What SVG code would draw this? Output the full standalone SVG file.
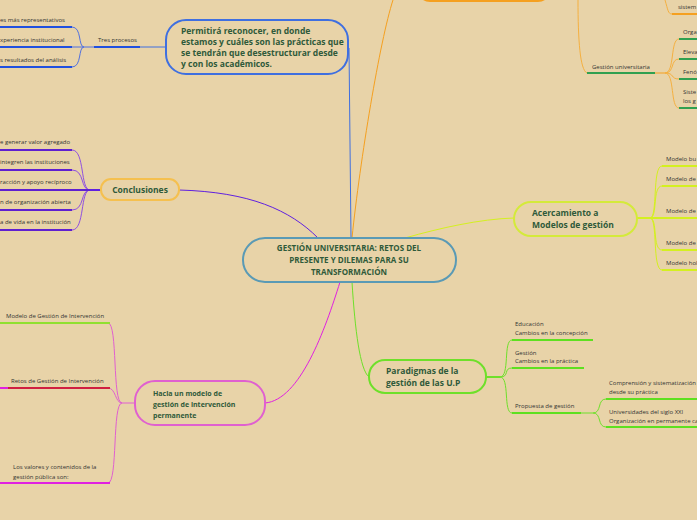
<svg xmlns="http://www.w3.org/2000/svg" width="697" height="520" viewBox="0 0 697 520">
<style>
.n{fill:#e8d3a8;stroke-width:2}
.t{font-family:"Open Sans","Noto Sans",sans-serif;font-weight:bold;fill:#2f5a3a;font-size:8.5px}
.s{font-family:"Open Sans","Noto Sans",sans-serif;fill:#333;font-size:6px}
.c{fill:none;stroke-width:1}
.u{fill:none;stroke-width:2}
</style>
<rect width="697" height="520" fill="#e8d3a8"/>
<g id="connectors">
<path class="c" d="M352,238 C360,160 380,40 393,0" stroke="#f5a020" stroke-width="1.5"/>
<path class="c" d="M578,0 C578,40 580,70 587,73" stroke="#f5b040"/>
<path class="u" d="M587,73 H655" stroke="#30a050"/>
<path class="c" d="M655,73 H665" stroke="#f5a020"/>
<path class="c" d="M665,73 C675,73 670,39 679,39 M665,73 C675,73 670,59 679,59 M665,73 C675,73 670,79 679,79 M665,73 C675,73 670,108 679,108 M665,0 C668,10 668,14 672,14" stroke="#f5b040"/>
<path class="u" d="M679,39 H697 M679,59 H697 M679,79 H697 M679,108 H697" stroke="#30a050"/>
<path class="u" d="M672,14 H697" stroke="#f5a020"/>
<path class="c" d="M351,238 L349,48" stroke="#3f6fe0" stroke-width="1.5"/>
<path class="c" d="M166,47 H140" stroke="#3f6fe0"/>
<path class="u" d="M94,47 H140" stroke="#2050e0"/>
<path class="c" d="M94,47 H84 C78,47 82,27 72,27 M84,47 H72 M84,47 C78,47 82,67 72,67" stroke="#5070e0"/>
<path class="u" d="M0,27 H72 M0,47 H72 M0,67 H72" stroke="#2050e0"/>
<path class="c" d="M179,190 C250,192 290,210 318,238" stroke="#6020e0" stroke-width="1.5"/>
<path class="u" d="M101,190 H90" stroke="#6020e0"/>
<path class="c" d="M90,190 C80,190 85,150 72,150 M90,190 C80,190 85,170 72,170 M90,190 C80,190 85,210 72,210 M90,190 C80,190 85,230 72,230" stroke="#9050e0"/>
<path class="u" d="M0,150 H72 M0,170 H72 M0,190 H90 M0,210 H72 M0,230 H72" stroke="#6020d0"/>
<path class="c" d="M405,238 C440,228 480,219 514,218" stroke="#d4f020" stroke-width="1.5"/>
<path class="u" d="M637,218 H650" stroke="#d4f020"/>
<path class="c" d="M650,218 C658,218 652,166 662,166 M650,218 C658,218 652,186 662,186 M650,218 C658,218 652,250 662,250 M650,218 C658,218 652,270 662,270" stroke="#d4f020"/>
<path class="u" d="M662,166 H697 M662,186 H697 M650,218 H697 M662,250 H697 M662,270 H697" stroke="#d4f020"/>
<path class="c" d="M352,282 C355,330 360,370 369,377" stroke="#6ee02a" stroke-width="1.5"/>
<path class="u" d="M486,377 H500" stroke="#6ee02a"/>
<path class="c" d="M500,377 C510,377 503,340 512,340 M500,377 C510,377 503,368 512,368 M500,377 C510,377 503,413 512,413" stroke="#6ee02a"/>
<path class="u" d="M512,340 H593 M512,368 H584 M512,413 H581" stroke="#5ee020"/>
<path class="c" d="M581,413 H593 C602,413 597,399 606,399 M593,413 C602,413 597,427 606,427" stroke="#6ee02a"/>
<path class="u" d="M606,399 H697 M606,427 H697" stroke="#5ee020"/>
<path class="c" d="M265,403 C300,400 325,330 340,282" stroke="#e020e0" stroke-width="1.5"/>
<path class="c" d="M135,403 H122" stroke="#e060d0"/>
<path class="c" d="M122,403 C112,403 118,323 108,323 M122,403 C115,403 116,388 108,388 M122,403 C112,403 118,483 108,483" stroke="#e060d0"/>
<path class="u" d="M0,323 H110" stroke="#90e030"/>
<path class="u" d="M8,388 H110" stroke="#d02040"/>
<path class="u" d="M0,388 H8 M0,483 H110" stroke="#e020e0"/>
</g>
<g id="n-top"><rect class="n" x="418" y="-30" width="132" height="31" rx="12" stroke="#f5a020"/></g>
<g id="n-gestion"><text class="s" x="592" y="69">Gestión universitaria</text>
<text class="s" x="683" y="34">Orga</text><text class="s" x="683" y="54">Eleva</text><text class="s" x="683" y="74">Fenó</text><text class="s" x="683" y="94">Siste</text><text class="s" x="683" y="103">los g</text><text class="s" x="678" y="9">sistem</text></g>
<g id="n-center"><rect class="n" x="243" y="238" width="213" height="44" rx="22" stroke="#5a9ab5"/>
<text class="t" text-anchor="middle" style="font-size:8px"><tspan x="349" y="251">GESTIÓN UNIVERSITARIA: RETOS DEL</tspan><tspan x="349" y="263">PRESENTE Y DILEMAS PARA SU</tspan><tspan x="349" y="275">TRANSFORMACIÓN</tspan></text></g>
<g id="n-blue"><rect class="n" x="166" y="20" width="182" height="54" rx="20" stroke="#3f6fe0"/>
<text class="t"><tspan x="181" y="34">Permitirá reconocer, en donde</tspan><tspan x="181" y="45">estamos y cuáles son las prácticas que</tspan><tspan x="181" y="56">se tendrán que desestructurar desde</tspan><tspan x="181" y="67">y con los académicos.</tspan></text></g>
<g id="n-tres"><text class="s" x="98" y="42">Tres procesos</text>
<text class="s" x="0" y="22">es más representativos</text><text class="s" x="0" y="42">xperiencia institucional</text><text class="s" x="0" y="62">s resultados del análisis</text></g>
<g id="n-concl"><rect class="n" x="101" y="179" width="78" height="21" rx="10" stroke="#f5c04f"/>
<text class="t" x="140" y="193" text-anchor="middle">Conclusiones</text>
<text class="s" x="0" y="144">e generar valor agregado</text><text class="s" x="0" y="164">integren las instituciones</text><text class="s" x="0" y="184">racción y apoyo recíproco</text><text class="s" x="0" y="204">n de organización abierta</text><text class="s" x="0" y="224">a de vida en la institución</text></g>
<g id="n-acerc"><rect class="n" x="514" y="202" width="123" height="34" rx="17" stroke="#d4ea3a"/>
<text class="t"><tspan x="532" y="216">Acercamiento a</tspan><tspan x="532" y="228">Modelos de gestión</tspan></text>
<text class="s" x="666" y="161">Modelo bu</text><text class="s" x="666" y="181">Modelo de</text><text class="s" x="666" y="213">Modelo de</text><text class="s" x="666" y="245">Modelo de</text><text class="s" x="666" y="265">Modelo hol</text></g>
<g id="n-parad"><rect class="n" x="369" y="360" width="117" height="33" rx="16" stroke="#6ee02a"/>
<text class="t"><tspan x="386" y="374">Paradigmas de la</tspan><tspan x="386" y="386">gestión de las U.P</tspan></text>
<text class="s"><tspan x="515" y="326">Educación</tspan><tspan x="515" y="335">Cambios en la concepción</tspan></text>
<text class="s"><tspan x="515" y="355">Gestión</tspan><tspan x="515" y="363">Cambios en la práctica</tspan></text>
<text class="s" x="515" y="408">Propuesta de gestión</text>
<text class="s"><tspan x="609" y="385">Comprensión y sistematización</tspan><tspan x="609" y="394">desde su práctica</tspan></text>
<text class="s"><tspan x="609" y="414">Universidades del siglo XXI</tspan><tspan x="609" y="423">Organización en permanente ca</tspan></text></g>
<g id="n-hacia"><rect class="n" x="135" y="381" width="130" height="44" rx="20" stroke="#e060d0"/>
<text class="t" style="font-size:7px"><tspan x="153" y="396">Hacia un modelo de</tspan><tspan x="153" y="407">gestión de intervención</tspan><tspan x="153" y="418">permanente</tspan></text>
<text class="s" x="6" y="318">Modelo de Gestión de Intervención</text>
<text class="s" x="11" y="383">Retos de Gestión de Intervención</text>
<text class="s"><tspan x="13" y="469">Los valores y contenidos de la</tspan><tspan x="13" y="479">gestión pública son:</tspan></text></g>
</svg>
